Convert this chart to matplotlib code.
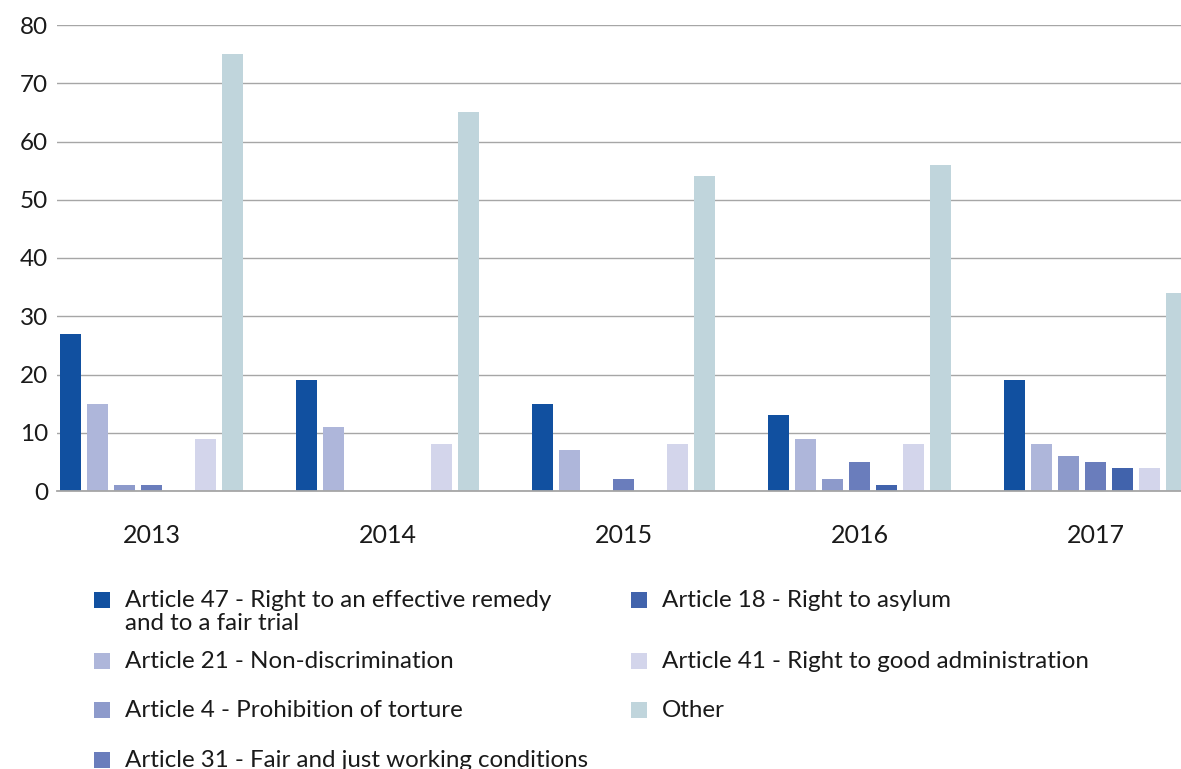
import numpy as np
import matplotlib
matplotlib.use('Agg')
import matplotlib.pyplot as plt
from matplotlib.patches import Rectangle

years = ['2013', '2014', '2015', '2016', '2017']
art47 = [27, 19, 15, 13, 19]
art21 = [15, 11, 7, 9, 8]
art4 = [1, 0, 0, 2, 6]
art31 = [1, 0, 2, 5, 5]
art18 = [0, 0, 0, 1, 4]
art41 = [9, 8, 8, 8, 4]
other = [75, 65, 54, 56, 34]

labels = ['Article 47 - Right to an effective remedy\nand to a fair trial',
          'Article 21 - Non-discrimination',
          'Article 4 - Prohibition of torture',
          'Article 31 - Fair and just working conditions',
          'Article 18 - Right to asylum',
          'Article 41 - Right to good administration',
          'Other']
colors = ['#1150A0', '#AEB6DA', '#8D9ACB', '#6A7DBC', '#4163AC', '#D3D5EB', '#C0D5DC']
series = [art47, art21, art4, art31, art18, art41, other]

W, H = 1181, 769
plt.rcParams['font.family'] = ['Lato', 'DejaVu Sans']
txtc = '#1a1a1a'
grid = '#A6A6A6'

fig = plt.figure(figsize=(W/100, H/100), dpi=100)
ax = fig.add_axes([57/W, 1 - 491/H, 1 - 57/W, (491 - 25)/H])

x = np.arange(len(years))
pitch = 27/236
for j, (vals, c) in enumerate(zip(series, colors)):
    ax.bar(x + (j - 3)*pitch, vals, width=21.5/236, color=c, zorder=3)

ax.set_xlim(-0.4004, 4.362)
ax.set_ylim(0, 80)
ax.set_yticks(range(0, 81, 10))
ax.set_xticks(x)
ax.set_xticklabels(years)
ax.tick_params(axis='y', length=0, pad=6.5, labelsize=17.5, labelcolor=txtc)
ax.tick_params(axis='x', length=0, pad=24, labelsize=18, labelcolor=txtc)
ax.grid(axis='y', color=grid, lw=1.0, zorder=1)
for s in ['top', 'right', 'left']:
    ax.spines[s].set_visible(False)
ax.spines['bottom'].set_color(grid)
ax.spines['bottom'].set_linewidth(1.3)
ax.spines['bottom'].set_zorder(4)

# legend, two columns
col_x = [(94, 125), (631, 662)]
rows = [[600, 661, 710, 760], [600, 661, 710]]
k = 0
for ci in range(2):
    mx, tx = col_x[ci]
    for ry in rows[ci]:
        fig.add_artist(Rectangle((mx/W, 1 - (ry + 8)/H), 16/W, 16/H,
                                 transform=fig.transFigure, color=colors[k], lw=0))
        nl = labels[k].count('\n')
        fig.text(tx/W, 1 - (ry + 7 + 23*nl)/H, labels[k], fontsize=17.4, color=txtc,
                 va='baseline', ha='left', linespacing=1.13)
        k += 1

fig.savefig('out.png', dpi=100)
